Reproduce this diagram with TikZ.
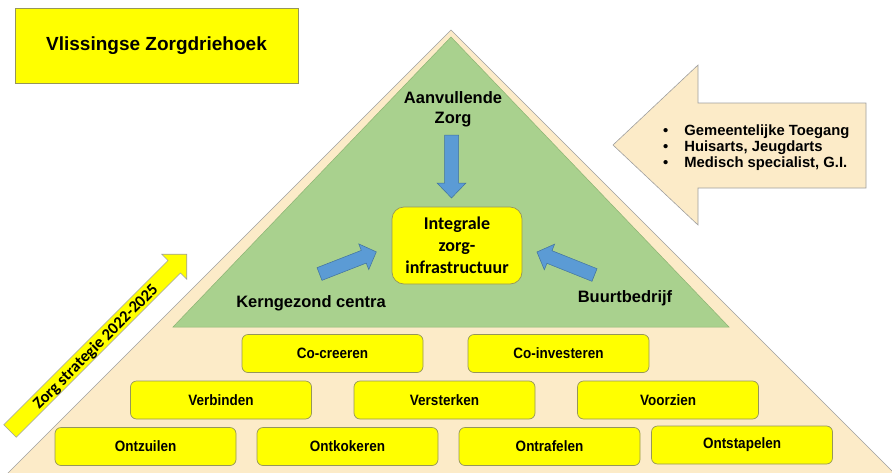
\documentclass[tikz,border=0pt]{standalone}
\usepackage{fontspec}
\setmainfont{Liberation Sans}
\newfontfamily\calib{Carlito}
\newfontfamily\narrowf[FakeStretch=0.9]{Liberation Sans}
\usetikzlibrary{calc}
\definecolor{beige}{RGB}{252,235,200}
\definecolor{leaf}{RGB}{169,209,142}
\definecolor{leafline}{RGB}{140,180,115}
\definecolor{ybox}{RGB}{255,255,0}
\definecolor{yline}{RGB}{150,150,90}
\definecolor{bluefill}{RGB}{91,155,213}
\definecolor{blueline}{RGB}{65,113,156}
\definecolor{grayline}{RGB}{160,160,160}
% style, tail, angle, length, body half width, head half width, head length
\newcommand\blockarrow[7]{%
\begin{scope}[shift={#2}, rotate=#3]
\draw[#1] (0,-#5) -- ({#4-#7},-#5) -- ({#4-#7},-#6) -- (#4,0) -- ({#4-#7},#6) -- ({#4-#7},#5) -- (0,#5) -- cycle;
\end{scope}}
\begin{document}
\begin{tikzpicture}[x=1pt,y=-1pt,
  ybox/.style={draw=yline, fill=ybox, line width=0.7pt, rounded corners=6pt, minimum width=181pt, minimum height=38pt, inner sep=0pt, font=\narrowf\bfseries\fontsize{15}{18}\selectfont},
  lbl/.style={font=\bfseries\fontsize{16.5}{20}\selectfont, align=center, inner sep=0pt},
  bluearrow/.style={fill=bluefill, draw=blueline, line width=0.5pt},
  outline/.style={draw=grayline, line width=0.6pt}]
\useasboundingbox (0,0) rectangle (892,472);
\clip (0,0) rectangle (892,472);
\fill[white] (0,0) rectangle (892,472);
% pyramid
\draw[outline, fill=beige] (451,30) -- (911,490) -- (-9,490) -- cycle;
\draw[fill=leaf, draw=leafline, line width=0.5pt] (451,37) -- (729,327) -- (173,327) -- cycle;
% title
\node[draw=yline, fill=ybox, line width=0.7pt, minimum width=283pt, minimum height=75pt, inner sep=0pt, font=\bfseries\fontsize{19}{22}\selectfont] (title) at (156.5,45.5) {Vlissingse Zorgdriehoek};
% access arrow
\draw[outline, fill=beige] (613,145) -- (698,65) -- (698,103) -- (866,103) -- (866,188) -- (698,188) -- (698,225) -- cycle;
\node[anchor=west, inner sep=0pt, font=\bfseries\fontsize{14.8}{16}\selectfont] (access) at (663,148)
  {\begin{tabular}{@{}l@{\hspace{16pt}}l@{}}\textbullet & Gemeentelijke Toegang\\ \textbullet & Huisarts, Jeugdarts\\ \textbullet & Medisch specialist, G.I.\end{tabular}};
% strategy arrow
\blockarrow{outline, fill=ybox}{(10,431)}{45}{250}{8.8}{17.7}{17.7}
\node[rotate=45, inner sep=0pt, font=\calib\bfseries\fontsize{16.5}{20}\selectfont] (strat) at (96,347) {Zorg strategie 2022-2025};
% centre
\node[draw=yline, fill=ybox, line width=0.7pt, rounded corners=12pt, minimum width=130pt, minimum height=77pt, align=center, inner sep=0pt, font=\calib\bfseries\fontsize{18}{22}\selectfont] (integ) at (457,245.5) {Integrale\\zorg-\\infrastructuur};
\node[lbl] (aanv) at (453,109) {Aanvullende\\Zorg};
\node[lbl, anchor=base] (kern) at (311,307) {Kerngezond centra};
\node[lbl, anchor=base] (buurt) at (625,302) {Buurtbedrijf};
\blockarrow{bluearrow}{(451.5,135)}{-90}{63}{7}{14.5}{15}
\blockarrow{bluearrow}{(319.5,274)}{21.3}{61}{6.8}{13.8}{13.5}
\blockarrow{bluearrow}{(594.5,275)}{158.2}{62}{6.8}{13.8}{13.5}
% bricks
\node[ybox] (cocre) at (332.5,353.5) {Co-creeren};
\node[ybox] (coinv) at (558.5,353.5) {Co-investeren};
\node[ybox] (verb) at (221,400) {Verbinden};
\node[ybox] (verst) at (444.5,400) {Versterken};
\node[ybox] (voorz) at (668,400) {Voorzien};
\node[ybox] (ontz) at (145.5,446.5) {Ontzuilen};
\node[ybox] (ontk) at (347.5,446.5) {Ontkokeren};
\node[ybox] (ontr) at (549.5,446.5) {Ontrafelen};
\node[ybox] (onts) at (742,445) {Ontstapelen};
\end{tikzpicture}
\end{document}
